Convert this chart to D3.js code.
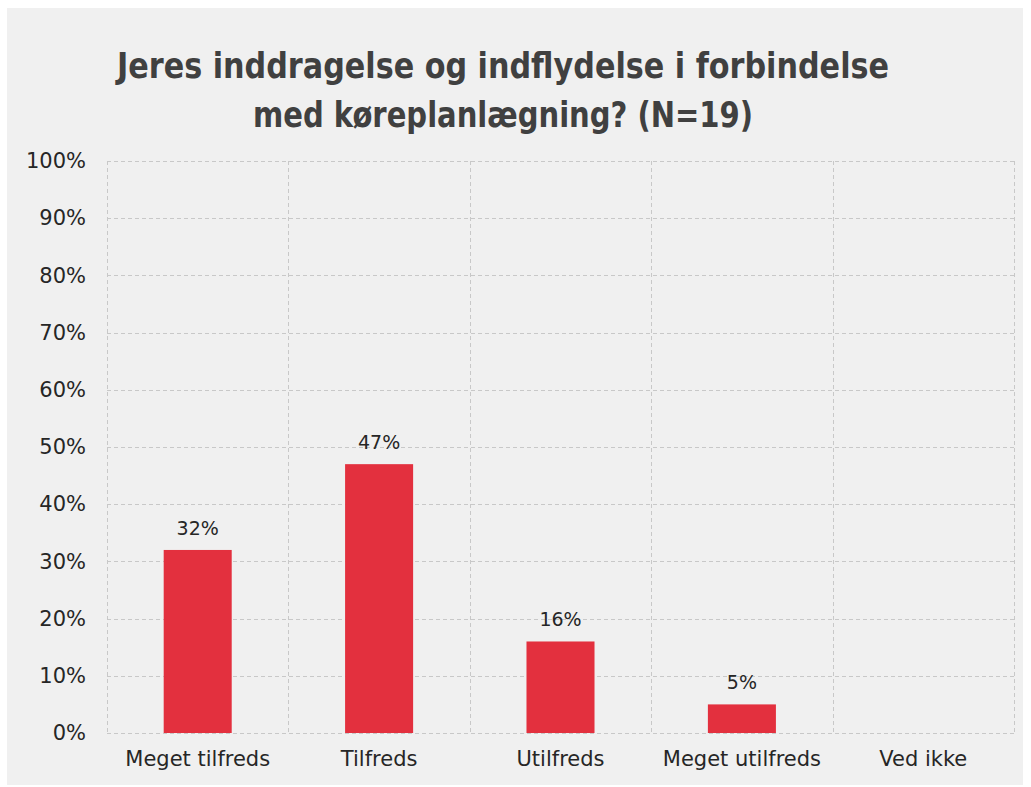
<!DOCTYPE html>
<html>
<head>
<meta charset="utf-8">
<script src="https://cdn.jsdelivr.net/npm/d3@7"></script>
<style>
  body { margin: 0; background: #fff; }
</style>
</head>
<body>
<div id="chart"></div>
<script>
// data
const categories = ["Meget tilfreds", "Tilfreds", "Utilfreds", "Meget utilfreds", "Ved ikke"];
const values = [32, 47, 16, 5, null];
const yTicks = [0, 10, 20, 30, 40, 50, 60, 70, 80, 90, 100];
const titleLines = ["Jeres inddragelse og indflydelse i forbindelse", "med køreplanlægning? (N=19)"];

const width = 1031;
const height = 787;
const margin = { top: 161, right: 17, bottom: 54, left: 107 };
const titleWidths = [772, 500];

const svg = d3.select("#chart").append("svg")
    .attr("width", width)
    .attr("height", height);

// panel background
svg.append("rect")
    .attr("x", 7).attr("y", 8)
    .attr("width", 1016).attr("height", 777)
    .attr("fill", "#f0f0f0");

const x = d3.scaleBand()
    .domain(categories)
    .range([margin.left, width - margin.right]);

const y = d3.scaleLinear()
    .domain([0, 100])
    .range([height - margin.bottom, margin.top]);

// horizontal grid
svg.append("g")
    .selectAll("line")
    .data(yTicks)
    .join("line")
    .attr("x1", margin.left)
    .attr("x2", width - margin.right)
    .attr("y1", d => Math.round(y(d)) + 0.5)
    .attr("y2", d => Math.round(y(d)) + 0.5)
    .attr("stroke", "#c8c8c8")
    .attr("stroke-dasharray", "4,3");

// vertical grid (category separators)
const seps = categories.map(c => x(c)).concat([width - margin.right]);
svg.append("g")
    .selectAll("line")
    .data(seps)
    .join("line")
    .attr("x1", d => Math.round(d) + 0.5)
    .attr("x2", d => Math.round(d) + 0.5)
    .attr("y1", y(100))
    .attr("y2", y(0))
    .attr("stroke", "#c8c8c8")
    .attr("stroke-dasharray", "4,3");

// bars
const barW = x.bandwidth() * 0.375;
const data = categories.map((c, i) => ({ cat: c, val: values[i] })).filter(d => d.val != null);

svg.append("g")
    .selectAll("rect")
    .data(data)
    .join("rect")
    .attr("x", d => x(d.cat) + x.bandwidth() / 2 - barW / 2)
    .attr("y", d => y(d.val))
    .attr("width", barW)
    .attr("height", d => y(0) - y(d.val))
    .attr("fill", "#e3303e");

// value labels
svg.append("g")
    .selectAll("text")
    .data(data)
    .join("text")
    .attr("x", d => x(d.cat) + x.bandwidth() / 2)
    .attr("y", d => y(d.val) - 15)
    .attr("text-anchor", "middle")
    .attr("font-family", "DejaVu Sans, Verdana, sans-serif")
    .attr("font-size", "19px")
    .attr("fill", "#262626")
    .text(d => d.val + "%");

// y axis labels
const yAxis = d3.axisLeft(y)
    .tickValues(yTicks)
    .tickFormat(d => d + "%")
    .tickSize(0)
    .tickPadding(21);

const yg = svg.append("g")
    .attr("transform", `translate(${margin.left},0)`)
    .call(yAxis);
yg.select(".domain").remove();
yg.selectAll("text")
    .attr("font-family", "DejaVu Sans, Verdana, sans-serif")
    .attr("font-size", "21px")
    .attr("fill", "#262626");

// x axis labels
const xAxis = d3.axisBottom(x).tickSize(0).tickPadding(18);
const xg = svg.append("g")
    .attr("transform", `translate(0,${y(0)})`)
    .call(xAxis);
xg.select(".domain").remove();
xg.selectAll("text")
    .attr("font-family", "DejaVu Sans, Verdana, sans-serif")
    .attr("font-size", "21px")
    .attr("fill", "#262626");

// title
svg.append("g")
    .selectAll("text")
    .data(titleLines)
    .join("text")
    .attr("x", 503)
    .attr("y", (d, i) => 78 + i * 49)
    .attr("text-anchor", "middle")
    .attr("textLength", (d, i) => titleWidths[i])
    .attr("lengthAdjust", "spacingAndGlyphs")
    .attr("font-family", "Liberation Sans Narrow, DejaVu Sans Condensed, sans-serif")
    .attr("font-weight", "bold")
    .attr("font-size", "35px")
    .attr("fill", "#404040")
    .text(d => d);
</script>
</body>
</html>
